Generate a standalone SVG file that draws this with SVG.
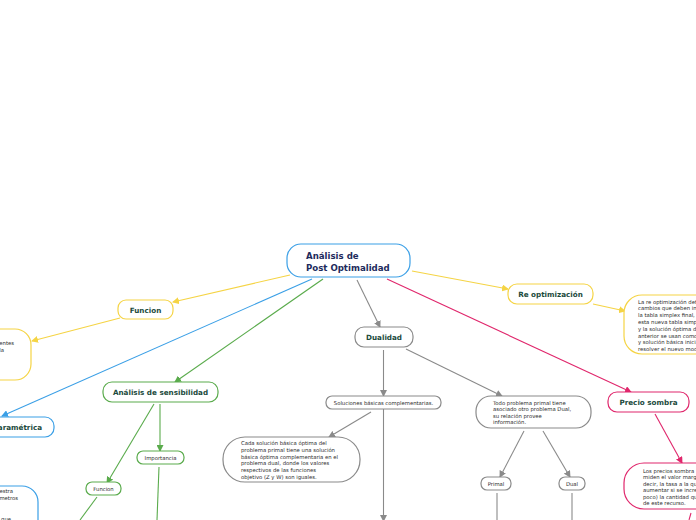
<svg xmlns="http://www.w3.org/2000/svg" width="696" height="520" viewBox="0 0 696 520">
<style>
.n{fill:#fff;stroke-width:1.2}
.y{stroke:#f5d445}.b{stroke:#3a9fe6}.g{stroke:#5aab4c}.k{stroke:#8a8a8a}.p{stroke:#e0276c}
.l{fill:none;stroke-width:1.1}
.t{font-family:"DejaVu Sans",Verdana,sans-serif;font-weight:bold;font-size:7.2px;fill:#1b4a3c;text-anchor:middle}
.c{font-family:"DejaVu Sans",Verdana,sans-serif;font-weight:bold;font-size:8.6px;fill:#1d2b5c}
.s{font-family:"DejaVu Sans",Verdana,sans-serif;font-size:5.3px;fill:#2a2a2a}
.sm{text-anchor:middle}
.se{text-anchor:end}
</style>
<defs>
<marker id="ay" markerUnits="userSpaceOnUse" markerWidth="7" markerHeight="7" refX="6" refY="3.5" orient="auto"><path d="M0,0 L7,3.5 L0,7 z" fill="#f5d445"/></marker>
<marker id="ab" markerUnits="userSpaceOnUse" markerWidth="7" markerHeight="7" refX="6" refY="3.5" orient="auto"><path d="M0,0 L7,3.5 L0,7 z" fill="#3a9fe6"/></marker>
<marker id="ag" markerUnits="userSpaceOnUse" markerWidth="7" markerHeight="7" refX="6" refY="3.5" orient="auto"><path d="M0,0 L7,3.5 L0,7 z" fill="#5aab4c"/></marker>
<marker id="ak" markerUnits="userSpaceOnUse" markerWidth="7" markerHeight="7" refX="6" refY="3.5" orient="auto"><path d="M0,0 L7,3.5 L0,7 z" fill="#8a8a8a"/></marker>
<marker id="ap" markerUnits="userSpaceOnUse" markerWidth="7" markerHeight="7" refX="6" refY="3.5" orient="auto"><path d="M0,0 L7,3.5 L0,7 z" fill="#e0276c"/></marker>
</defs>
<rect width="696" height="520" fill="#fff"/>
<g id="connectors">
<line class="l y" x1="290" y1="275" x2="173" y2="302" marker-end="url(#ay)"/>
<line class="l y" x1="120" y1="318" x2="32" y2="341" marker-end="url(#ay)"/>
<line class="l b" x1="312" y1="279" x2="2" y2="416" marker-end="url(#ab)"/>
<line class="l g" x1="323" y1="279" x2="175" y2="382" marker-end="url(#ag)"/>
<line class="l g" x1="154" y1="404" x2="107" y2="483" marker-end="url(#ag)"/>
<line class="l g" x1="160" y1="404" x2="160" y2="451" marker-end="url(#ag)"/>
<line class="l g" x1="97" y1="497" x2="80" y2="520"/>
<line class="l g" x1="159" y1="467" x2="157" y2="520"/>
<line class="l k" x1="357" y1="280" x2="380" y2="327" marker-end="url(#ak)"/>
<line class="l k" x1="383.5" y1="350" x2="383.5" y2="396" marker-end="url(#ak)"/>
<line class="l k" x1="383.5" y1="396" x2="383.5" y2="521" marker-end="url(#ak)"/>
<line class="l k" x1="371" y1="412" x2="329" y2="437" marker-end="url(#ak)"/>
<line class="l k" x1="406" y1="349" x2="502" y2="396" marker-end="url(#ak)"/>
<line class="l k" x1="524" y1="431" x2="500" y2="477" marker-end="url(#ak)"/>
<line class="l k" x1="543" y1="431" x2="570" y2="477" marker-end="url(#ak)"/>
<line class="l k" x1="497" y1="493" x2="497" y2="520"/>
<line class="l k" x1="572" y1="493" x2="572" y2="520"/>
<line class="l y" x1="412" y1="271" x2="508" y2="289" marker-end="url(#ay)"/>
<line class="l y" x1="593" y1="304" x2="625" y2="311" marker-end="url(#ay)"/>
<line class="l p" x1="387" y1="279" x2="631" y2="392" marker-end="url(#ap)"/>
<line class="l p" x1="655" y1="414" x2="682" y2="463" marker-end="url(#ap)"/>
<line class="l p" x1="691" y1="513" x2="689" y2="520"/>
</g>
<g id="central">
<rect class="n b" x="287" y="244" width="123" height="33" rx="14"/>
<text class="c" x="306" y="259">Análisis de</text>
<text class="c" x="306" y="271">Post Optimalidad</text>
</g>
<g id="funcion">
<rect class="n y" x="118" y="300" width="55" height="19" rx="8"/>
<text class="t" x="145.5" y="312.5">Funcion</text>
</g>
<g id="funcion-detalle">
<rect class="n y" x="-60" y="329" width="91" height="51" rx="16"/>
<text class="s se" x="14" y="345">Componentes</text>
<text class="s se" x="4" y="352">de la</text>
</g>
<g id="parametrica">
<rect class="n b" x="-70" y="417" width="124" height="20" rx="9"/>
<text class="t" x="42" y="430" style="text-anchor:end">Paramétrica</text>
</g>
<g id="parametrica-detalle">
<rect class="n b" x="-60" y="486" width="98" height="60" rx="16"/>
<text class="s se" x="13" y="493">Muestra</text>
<text class="s se" x="18" y="500">parámetros</text>
<text class="s se" x="11" y="521">que</text>
</g>
<g id="sensibilidad">
<rect class="n g" x="103" y="382" width="115" height="20" rx="9"/>
<text class="t" x="160.5" y="395">Análisis de sensibilidad</text>
</g>
<g id="importancia">
<rect class="n g" x="137" y="451" width="47" height="13" rx="6"/>
<text class="s sm" x="160.5" y="459.5">Importancia</text>
</g>
<g id="funcion2">
<rect class="n g" x="86" y="482" width="35" height="13" rx="6"/>
<text class="s sm" x="103.5" y="490.5">Funcion</text>
</g>
<g id="dualidad">
<rect class="n k" x="355" y="327" width="58" height="20" rx="9"/>
<text class="t" x="384" y="340">Dualidad</text>
</g>
<g id="soluciones">
<rect class="n k" x="326" y="396" width="115" height="13" rx="6"/>
<text class="s sm" x="383.5" y="404.5">Soluciones básicas complementarias.</text>
</g>
<g id="cada-solucion">
<rect class="n k" x="223" y="437" width="137" height="45" rx="22"/>
<text class="s" x="241" y="445">Cada solución básica óptima del</text>
<text class="s" x="241" y="451.8">problema primal tiene una solución</text>
<text class="s" x="241" y="458.6">básica óptima complementaria en el</text>
<text class="s" x="241" y="465.4">problema dual, donde los valores</text>
<text class="s" x="241" y="472.2">respectivos de las funciones</text>
<text class="s" x="241" y="479">objetivo (Z y W) son iguales.</text>
</g>
<g id="todo-problema">
<rect class="n k" x="476" y="396" width="115" height="32" rx="15"/>
<text class="s" x="493" y="404.5">Todo problema primal tiene</text>
<text class="s" x="493" y="411">asociado otro problema Dual,</text>
<text class="s" x="493" y="417.5">su relación provee</text>
<text class="s" x="493" y="424">información.</text>
</g>
<g id="primal">
<rect class="n k" x="481" y="477" width="30" height="13" rx="6"/>
<text class="s sm" x="496" y="485.5">Primal</text>
</g>
<g id="dual">
<rect class="n k" x="559" y="477" width="26" height="13" rx="6"/>
<text class="s sm" x="572" y="485.5">Dual</text>
</g>
<g id="reoptimizacion">
<rect class="n y" x="508" y="284" width="85" height="20" rx="9"/>
<text class="t" x="550.5" y="297">Re optimización</text>
</g>
<g id="reoptimizacion-detalle">
<rect class="n y" x="624" y="295" width="130" height="59" rx="18"/>
<text class="s" x="638" y="303.5">La re optimización determina</text>
<text class="s" x="638" y="310.3">cambios que deben ingresar en</text>
<text class="s" x="638" y="317.1">la tabla simplex final,</text>
<text class="s" x="638" y="323.9">esta nueva tabla simplex</text>
<text class="s" x="638" y="330.7">y la solución óptima del</text>
<text class="s" x="638" y="337.5">anterior se usan como</text>
<text class="s" x="638" y="344.3">y solución básica inicial</text>
<text class="s" x="638" y="351.1">resolver el nuevo modelo.</text>
</g>
<g id="precio-sombra">
<rect class="n p" x="608" y="392" width="81" height="20" rx="9"/>
<text class="t" x="648.5" y="405">Precio sombra</text>
</g>
<g id="precio-detalle">
<rect class="n p" x="624" y="463" width="130" height="46" rx="20"/>
<text class="s" x="643" y="472.5">Los precios sombra</text>
<text class="s" x="643" y="479">miden el valor marginal</text>
<text class="s" x="643" y="485.5">decir, la tasa a la que</text>
<text class="s" x="643" y="492">aumentar si se incrementa</text>
<text class="s" x="643" y="498.5">poco) la cantidad que</text>
<text class="s" x="643" y="505">de este recurso.</text>
</g>
</svg>
